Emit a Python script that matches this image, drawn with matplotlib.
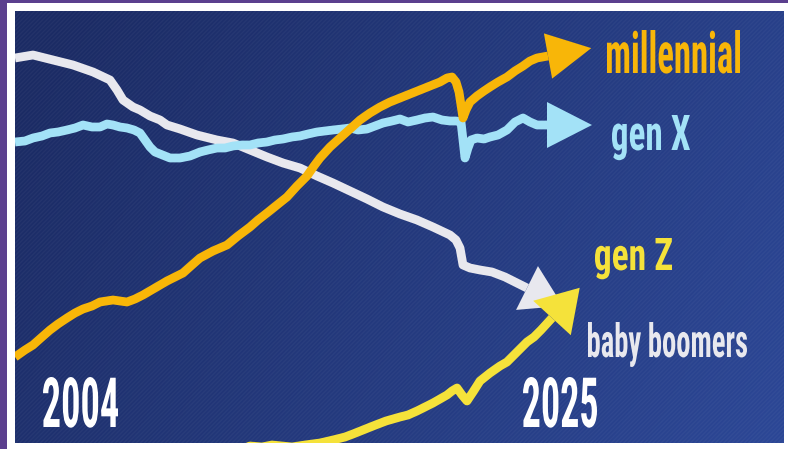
import numpy as np
import matplotlib
matplotlib.use("Agg")
import matplotlib.pyplot as plt
from matplotlib.patches import Rectangle
from matplotlib.patheffects import AbstractPathEffect
from matplotlib.transforms import Affine2D
from matplotlib.textpath import TextPath
from matplotlib.font_manager import FontProperties, fontManager

# ── Data (timeline position, relative interest) ──────────────────────────────────

BOOMER_X = [0, 18, 38, 58, 78, 95, 102, 108, 118, 125, 135, 145, 152, 165, 182, 202,
            218, 235, 252, 268, 285, 302, 318, 335, 352, 368, 385, 402, 418, 435,
            441, 445, 448, 455, 465, 477, 490, 502, 512]
BOOMER_Y = [385, 388, 383, 378, 371, 363, 353, 343, 336, 333, 327, 323, 318, 314, 308,
            303, 300, 293, 286, 280, 275, 267, 260, 252, 244, 236, 229, 223, 216, 208,
            203, 195, 178, 175, 173, 171, 166, 160, 155]

GENX_X = [0, 10, 18, 27, 35, 43, 52, 60, 68, 77, 85, 92, 98, 105, 112, 119, 125, 130,
          135, 140, 145, 155, 165, 175, 185, 193, 202, 210, 218, 227, 235, 243, 252,
          260, 268, 277, 285, 293, 302, 310, 318, 327, 335, 343, 352, 360, 368, 377,
          385, 393, 402, 410, 418, 427, 435, 441, 446, 448, 450, 453, 456, 462, 469,
          475, 483, 492, 500, 508, 515, 522, 532]
GENX_Y = [301, 302, 305, 307, 310, 311, 313, 315, 318, 316, 316, 319, 318, 316, 315,
          313, 310, 303, 296, 291, 289, 285, 285, 287, 291, 293, 295, 295, 297, 298,
          298, 300, 301, 303, 304, 306, 307, 309, 311, 312, 313, 314, 315, 313, 314,
          317, 320, 322, 324, 321, 323, 325, 326, 323, 322, 322, 321, 303, 285, 295,
          303, 305, 304, 306, 308, 313, 321, 325, 321, 318, 318]

MILLENNIAL_X = [0, 10, 18, 27, 35, 43, 52, 60, 68, 77, 85, 98, 112, 120, 128, 140, 152,
                160, 168, 177, 185, 198, 212, 223, 235, 243, 252, 262, 272, 282, 292,
                299, 305, 315, 325, 335, 345, 355, 365, 375, 385, 395, 405, 415, 425,
                432, 437, 441, 444, 446, 448, 451, 455, 462, 469, 475, 483, 492, 500,
                508, 515, 522, 533]
MILLENNIAL_Y = [86, 93, 98, 106, 113, 119, 125, 130, 134, 137, 141, 143, 141, 144, 148,
                155, 162, 166, 170, 178, 185, 192, 198, 207, 216, 223, 230, 238, 246,
                257, 267, 277, 285, 296, 305, 314, 323, 330, 336, 341, 345, 349, 353,
                357, 361, 365, 366, 361, 351, 338, 325, 333, 341, 347, 352, 356, 361,
                366, 372, 377, 382, 385, 387]

GENZ_X = [225, 235, 247, 257, 267, 277, 290, 305, 318, 330, 338, 348, 358, 371, 385,
          393, 402, 410, 418, 425, 432, 437, 442, 447, 452, 458, 465, 475, 485, 492,
          498, 505, 512, 519, 526, 537]
GENZ_Y = [-7, -3, -4, -2, -3, -4, -2, 0, 3, 6, 9, 13, 17, 22, 26, 28, 32, 36, 40, 44,
          48, 52, 55, 48, 42, 51, 62, 70, 77, 81, 87, 94, 101, 106, 113, 125]

# ── Colours ──────────────────────────────────────────────────────────────────────

PURPLE = "#5b3f8e"
GOLD = "#f8b608"
SKY = "#a3e2f7"
YELLOW = "#f5e23a"
SILVER = "#e8e8ee"
NAVY_LEFT = np.array([0x1b, 0x2b, 0x64]) / 255
NAVY_RIGHT = np.array([0x2c, 0x47, 0x96]) / 255

# (x, y, colour, zorder, arrow length, arrow width)
SERIES = [
    (BOOMER_X, BOOMER_Y, SILVER, 2, 40, 49),
    (GENX_X, GENX_Y, SKY, 3, 45, 46),
    (MILLENNIAL_X, MILLENNIAL_Y, GOLD, 4, 44, 46),
    (GENZ_X, GENZ_Y, YELLOW, 5, 41, 51),
]

# label text, colour, left, right, baseline, top of tallest glyph
LABELS = [
    ("millennial", GOLD, 592, 725, 370, 413),
    ("gen X", SKY, 597, 675, 293, 328),
    ("gen Z", YELLOW, 580, 657, 173, 205),
    ("baby boomers", SILVER, 573, 732, 86, 121),
    ("2004", "white", 28, 103, 16, 66),
    ("2025", "white", 508, 582, 16, 66),
]

names = {f.name for f in fontManager.ttflist}
LABEL_FONT = next((n for n in ["Liberation Sans Narrow", "Roboto Condensed",
                               "DejaVu Sans"] if n in names), "DejaVu Sans")


class Tall(AbstractPathEffect):
    """Stretch glyphs upward from the baseline (stand-in for a tall condensed face)."""

    def __init__(self, sy):
        super().__init__()
        self.sy = sy

    def draw_path(self, renderer, gc, tpath, affine, rgbFace=None):
        x0, y0 = affine.transform((0, 0))
        stretch = Affine2D().translate(-x0, -y0).scale(1, self.sy).translate(x0, y0)
        renderer.draw_path(gc, tpath, affine + stretch, rgbFace)


def arrow_head(ax, xs, ys, colour, z, length, width):
    tail = np.array([xs[-2], ys[-2]], float)
    base = np.array([xs[-1], ys[-1]], float)
    u = (base - tail) / np.hypot(*(base - tail))
    n = np.array([-u[1], u[0]])
    pts = np.array([base + length * u, base + n * width / 2, base - n * width / 2])
    ax.fill(pts[:, 0], pts[:, 1], color=colour, lw=0, zorder=z)


def put_label(ax, text, colour, left, right, baseline, top, px_per_pt):
    fp = FontProperties(family=LABEL_FONT, weight="bold", stretch="condensed")
    ext = TextPath((0, 0), text, size=1, prop=fp).get_extents()
    size = (right - left) / (ext.width * px_per_pt)
    sy = (top - baseline) / (ext.y1 * size * px_per_pt)
    ax.text(left - ext.x0 * size * px_per_pt, baseline, text, fontproperties=fp,
            fontsize=size, color=colour, ha="left", va="baseline", zorder=6,
            path_effects=[Tall(sy)])


fig = plt.figure(figsize=(7.88, 4.49), dpi=100, facecolor=PURPLE)
fig.add_artist(Rectangle((7 / 788, 0), 1, 446 / 449, transform=fig.transFigure,
                         facecolor="white", edgecolor="none", zorder=-5))

ax = fig.add_axes([15 / 788, 6 / 449, 769 / 788, 432 / 449])
ax.set_zorder(1)
ax.set_xlim(0, 769)
ax.set_ylim(0, 432)
ax.axis("off")

# navy background, darker on the upper left
gx = np.linspace(0, 1, 256)[None, :]
gy = np.linspace(0, 1, 128)[:, None]
t = np.clip(0.8 * gx + 0.25 * (1 - gy) - 0.05, 0, 1)
grad = NAVY_LEFT + (NAVY_RIGHT - NAVY_LEFT) * t[..., None]
ax.imshow(grad, extent=(0, 769, 0, 432), origin="lower", aspect="auto", zorder=0)
ax.add_patch(Rectangle((0, 0), 769, 432, facecolor="none", hatch="////////",
                       edgecolor=(1, 1, 1, 0.035), lw=0, zorder=1))

for xs, ys, colour, z, length, width in SERIES:
    ax.plot(xs, ys, color=colour, lw=6.3, solid_joinstyle="round",
            solid_capstyle="butt", zorder=z)
    arrow_head(ax, xs, ys, colour, z, length, width)

for text, colour, left, right, baseline, top in LABELS:
    put_label(ax, text, colour, left, right, baseline, top, fig.dpi / 72)

fig.savefig("out.png", dpi=100, facecolor=PURPLE)
